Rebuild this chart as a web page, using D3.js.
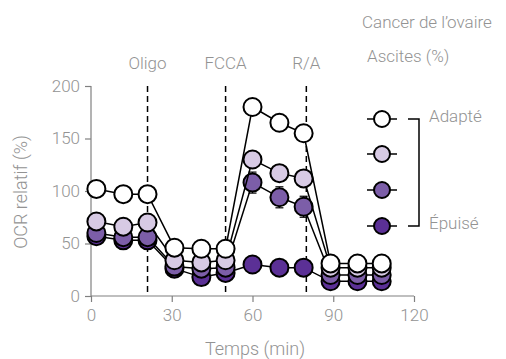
<!DOCTYPE html>
<html><head><meta charset="utf-8">
<script src="https://cdn.jsdelivr.net/npm/d3@7"></script>
<style>
body{margin:0;background:#fff;}
text{font-family:Roboto,"Noto Sans",sans-serif;font-weight:300;fill:#939393;}
</style></head><body>
<svg id="c" width="506" height="359"></svg>
<script>
const times = [2, 12, 21, 31, 41, 50, 60, 70, 79, 89, 99, 108];
const seriesNames = ["Adapté", "s2", "s3", "Épuisé"];
const adapte = [102, 97, 97, 46, 45, 45, 180, 165, 155, 31, 31, 31];
const s2 = [71, 66, 70, 34, 32, 34, 130, 117, 112, 27, 27, 27];
const s3 = [60, 56, 56, 28, 26, 27, 108, 94, 85, 20, 20, 20];
const epuise = [57, 53, 53, 26, 18, 22, 30, 27, 27, 14, 14, 14];
const err2 = [0, 0, 0, 0, 0, 0, 6, 4, 0, 0, 0, 0];
const err3 = [0, 0, 0, 0, 0, 0, 10, 10, 10, 0, 0, 0];
const colors = ["#ffffff", "#d7cae4", "#7c5ea8", "#5b3096"];
const injections = [21, 50, 80];
const injectionLabels = ["Oligo", "FCCA", "R/A"];
const xTicks = [0, 30, 60, 90, 120];
const yTicks = [0, 50, 100, 150, 200];

const svg = d3.select("#c");
const x = d3.scaleLinear().domain([0, 120]).range([91, 414]);
const y = d3.scaleLinear().domain([0, 200]).range([296, 86]);

const gx = svg.append("g").attr("transform", "translate(0,296)")
  .call(d3.axisBottom(x).tickValues(xTicks).tickSize(6).tickPadding(7));
const gy = svg.append("g").attr("transform", "translate(91,0)")
  .call(d3.axisLeft(y).tickValues(yTicks).tickSize(6).tickPadding(5));
[gx, gy].forEach(g => {
  g.select(".domain").attr("stroke", "#808080").attr("stroke-width", 1.2);
  g.selectAll(".tick line").attr("stroke", "#808080").attr("stroke-width", 1.2);
  g.selectAll(".tick text").attr("font-size", 17).attr("fill", "#939393")
    .attr("font-family", "Roboto").attr("font-weight", 300);
});
gx.select(".domain").attr("d", "M91,0H414");
gy.select(".domain").attr("d", "M0,296V86");

svg.append("text").attr("x", 255).attr("y", 355).attr("text-anchor", "middle")
  .attr("font-size", 18).text("Temps (min)");
svg.append("text").attr("transform", "translate(27,192) rotate(-90)")
  .attr("text-anchor", "middle").attr("font-size", 18).text("OCR relatif (%)");

injections.forEach((t, i) => {
  svg.append("line").attr("x1", x(t)).attr("x2", x(t)).attr("y1", 86).attr("y2", 296)
    .attr("stroke", "#000").attr("stroke-width", 1.5).attr("stroke-dasharray", "6,4");
  svg.append("text").attr("x", x(t)).attr("y", 69).attr("text-anchor", "middle")
    .attr("font-size", 17).text(injectionLabels[i]);
});

const data = [adapte, s2, s3, epuise];
const errs = [null, err2, err3, null];
const line = d3.line().x((d, i) => x(times[i])).y(d => y(d));
for (let k = data.length - 1; k >= 0; k--) {
  const vals = data[k];
  const g = svg.append("g");
  g.append("path").attr("d", line(vals)).attr("fill", "none")
    .attr("stroke", "#000").attr("stroke-width", 1.5);
  if (errs[k]) {
    errs[k].forEach((e, i) => {
      if (!e) return;
      const cx = x(times[i]);
      g.append("line").attr("x1", cx).attr("x2", cx).attr("y1", y(vals[i] - e)).attr("y2", y(vals[i] + e))
        .attr("stroke", "#000").attr("stroke-width", 1.2);
      [vals[i] - e, vals[i] + e].forEach(v => g.append("line").attr("x1", cx - 4).attr("x2", cx + 4)
        .attr("y1", y(v)).attr("y2", y(v)).attr("stroke", "#000").attr("stroke-width", 1.2));
    });
  }
  g.selectAll("circle").data(vals).join("circle")
    .attr("cx", (d, i) => x(times[i])).attr("cy", d => y(d)).attr("r", 9)
    .attr("fill", colors[k]).attr("stroke", "#000").attr("stroke-width", 2);
}

svg.append("text").attr("x", 362).attr("y", 28)
  .attr("font-size", 17).text("Cancer de l’ovaire");
svg.append("text").attr("x", 367).attr("y", 62)
  .attr("font-size", 17).text("Ascites (%)");
const ly = [119, 154, 190, 226];
colors.forEach((c, i) => {
  svg.append("line").attr("x1", 367).attr("x2", 397).attr("y1", ly[i]).attr("y2", ly[i])
    .attr("stroke", "#000").attr("stroke-width", 1.5);
  svg.append("circle").attr("cx", 382).attr("cy", ly[i]).attr("r", 8)
    .attr("fill", c).attr("stroke", "#000").attr("stroke-width", 2);
});
svg.append("path").attr("d", `M408,${ly[0]}H419V${ly[3]}H408`).attr("fill", "none")
  .attr("stroke", "#000").attr("stroke-width", 1.5);
svg.append("text").attr("x", 429).attr("y", 122).attr("font-size", 17).text(seriesNames[0]);
svg.append("text").attr("x", 429).attr("y", 229).attr("font-size", 17).text(seriesNames[3]);
</script></body></html>
